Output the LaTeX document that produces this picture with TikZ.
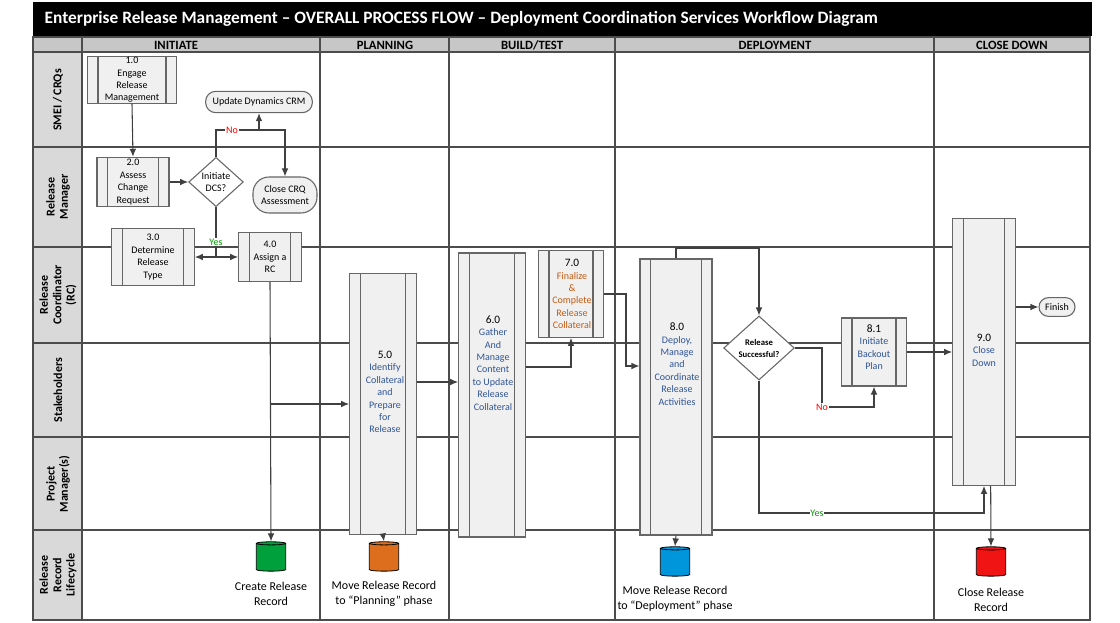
\documentclass[tikz,border=0pt]{standalone}
\usepackage{fontspec}
\setmainfont{Carlito}
\usetikzlibrary{shapes.geometric,arrows.meta}
\definecolor{descblue}{RGB}{47,84,150}
\definecolor{descbrown}{RGB}{197,90,17}
\definecolor{cylgreen}{RGB}{0,160,60}
\definecolor{cylorange}{RGB}{220,110,30}
\definecolor{cylblue}{RGB}{0,150,220}
\definecolor{cylred}{RGB}{240,20,20}
\tikzset{
  proc/.style={draw=black!60, fill=black!6, line width=0.8pt, inner sep=0pt,
    path picture={
      \draw[black!60, line width=0.8pt]
        ([xshift=#1]path picture bounding box.south west) -- ([xshift=#1]path picture bounding box.north west)
        ([xshift=-#1]path picture bounding box.south east) -- ([xshift=-#1]path picture bounding box.north east);}},
  proc/.default=8pt,
  txt/.style={align=center, font=\fontsize{7.5}{9.3}\selectfont, inner sep=0pt},
  term/.style={draw=black!60, fill=black!6, line width=0.8pt, rounded corners=7.5pt, align=center,
    font=\fontsize{7.5}{9.3}\selectfont, inner sep=2pt, minimum height=16pt},
  dec/.style={diamond, draw=black!60, fill=white, line width=0.8pt, inner sep=0pt, align=center},
  db/.style={cylinder, shape border rotate=90, aspect=0.35, draw=black, line width=0.6pt,
    minimum width=22pt, minimum height=22pt, fill=#1},
  lane/.style={rotate=90, align=center, font=\fontsize{9}{10}\selectfont\bfseries},
  head/.style={font=\fontsize{9.5}{10}\selectfont\bfseries},
  reccap/.style={align=center, font=\fontsize{9}{11.5}\selectfont},
  flow/.style={draw=black!75, line width=0.8pt},
  no/.style={fill=white, text=red, inner sep=0.5pt, font=\fontsize{7.5}{8}\selectfont},
  yes/.style={fill=white, text=green!60!black, inner sep=0.5pt, font=\fontsize{7.5}{8}\selectfont}
}
\begin{document}
\begin{tikzpicture}[x=0.75pt, y=-0.75pt, >={Latex[length=6pt,width=5pt]}]
\useasboundingbox (0,0) rectangle (1120,623);

% frame, title and headers
\fill[black] (33,2) rectangle (1092,36);
\node[text=white, font=\fontsize{13}{14}\selectfont\bfseries, anchor=west] (title) at (40,19)
  {Enterprise Release Management -- OVERALL PROCESS FLOW -- Deployment Coordination Services Workflow Diagram};
\fill[black!22] (33,37) rectangle (1090,52);
\fill[black!15] (33,52) rectangle (82,620);
\draw[black!70, line width=0.8pt] (33,37) rectangle (1090,620);
\foreach \y in {52,147,247,343,437,530} \draw[black!70, line width=0.8pt] (33,\y) -- (1090,\y);
\foreach \x in {82,320,449,615,934} \draw[black!70, line width=0.8pt] (\x,37) -- (\x,620);
\node[head] (hinit) at (176,45) {INITIATE};
\node[head] (hplan) at (385,45) {PLANNING};
\node[head] (hbuild) at (532,45) {BUILD/TEST};
\node[head] (hdep) at (775,45) {DEPLOYMENT};
\node[head] (hclose) at (1012,45) {CLOSE DOWN};
\node[lane] (l1) at (58,100) {SMEI / CRQs};
\node[lane] (l2) at (58,197) {Release\\Manager};
\node[lane] (l3) at (58,295) {Release\\Coordinator\\(RC)};
\node[lane] (l4) at (58,390) {Stakeholders};
\node[lane] (l5) at (58,484) {Project\\Manager(s)};
\node[lane] (l6) at (58,575) {Release\\Record\\Lifecycle};

% process steps
\node[proc, minimum width=67pt, minimum height=35pt, txt] (p1) at (132,80) {1.0\\Engage\\Release\\Management};
\node[term, minimum width=80pt] (crm) at (259,102) {Update Dynamics CRM};
\node[proc, minimum width=54pt, minimum height=37pt, txt] (p2) at (133,182) {2.0\\Assess\\Change\\Request};
\node[dec, minimum width=41pt, minimum height=37pt, font=\fontsize{7.5}{9.3}\selectfont] (dcs) at (216,182) {Initiate\\DCS?};
\node[term, minimum width=48pt, minimum height=27pt, rounded corners=12pt] (crq) at (285,195) {Close CRQ\\Assessment};
\node[proc, minimum width=62pt, minimum height=43pt, txt] (p3) at (153,257) {3.0\\Determine\\Release\\Type};
\node[proc, minimum width=47pt, minimum height=37pt, txt] (p4) at (270,257) {4.0\\Assign a\\RC};
\node[proc, minimum width=50pt, minimum height=196pt] (p5) at (383,404) {};
\node[txt] (t5) at (385,392) {\fontsize{8.5}{9.3}\selectfont 5.0\\\color{descblue}Identify\\\color{descblue}Collateral\\\color{descblue}and\\\color{descblue}Prepare\\\color{descblue}for\\\color{descblue}Release};
\node[proc, minimum width=50pt, minimum height=213pt] (p6) at (492,395) {};
\node[txt] (t6) at (493,363) {\fontsize{8.5}{9.3}\selectfont 6.0\\\color{descblue}Gather\\\color{descblue}And\\\color{descblue}Manage\\\color{descblue}Content\\\color{descblue}to Update\\\color{descblue}Release\\\color{descblue}Collateral};
\node[proc, minimum width=49pt, minimum height=65pt] (p7) at (571,294) {};
\node[txt] (t7) at (572,294) {\fontsize{8.5}{9.3}\selectfont 7.0\\\color{descbrown}Finalize\\\color{descbrown}\&\\\color{descbrown}Complete\\\color{descbrown}Release\\\color{descbrown}Collateral};
\node[proc, minimum width=54pt, minimum height=207pt] (p8) at (676,397) {};
\node[txt] (t8) at (677,364) {\fontsize{8.5}{9.3}\selectfont 8.0\\\color{descblue}Deploy,\\\color{descblue}Manage\\\color{descblue}and\\\color{descblue}Coordinate\\\color{descblue}Release\\\color{descblue}Activities};
\node[dec, minimum width=53pt, minimum height=48pt, font=\fontsize{6.5}{9}\selectfont\bfseries] (succ) at (759,348) {Release\\Successful?};
\node[proc, minimum width=49pt, minimum height=51pt] (p81) at (874,352) {};
\node[txt] (t81) at (874,347) {\fontsize{8.5}{9.3}\selectfont 8.1\\\color{descblue}Initiate\\\color{descblue}Backout\\\color{descblue}Plan};
\node[proc, minimum width=47pt, minimum height=200pt] (p9) at (984,352) {};
\node[txt] (t9) at (984,350) {\fontsize{8.5}{9.3}\selectfont 9.0\\\color{descblue}Close\\\color{descblue}Down};
\node[term, minimum width=27pt, minimum height=14pt, rounded corners=7pt] (fin) at (1057,307) {Finish};

% record lifecycle
\node[db=cylgreen] (rc1) at (271,558) {};
\node[db=cylorange] (rc2) at (384,558) {};
\node[db=cylblue] (rc3) at (675,563) {};
\node[db=cylred] (rc4) at (991,563) {};
\node[reccap] (c1) at (271,594) {Create Release\\Record};
\node[reccap] (c2) at (384,594) {Move Release Record\\to “Planning” phase};
\node[reccap] (c3) at (675,599) {Move Release Record\\to “Deployment” phase};
\node[reccap] (c4) at (991,600) {Close Release\\Record};

% connectors
\coordinate (nA) at (216,130);
\coordinate (nB) at (285,130);
\coordinate (yA) at (216,257);
\coordinate (j4) at (271,404);
\coordinate (j56) at (0,382);
\coordinate (j67) at (0,367);
\coordinate (j78a) at (626,294);
\coordinate (j78b) at (626,366);
\coordinate (j8a) at (676,248);
\coordinate (jNo) at (822,407);
\coordinate (jYes) at (984,513);
\draw[flow, ->] (p1.south) -- (p2.north);
\draw[flow, ->] (p2.east) -- (dcs.west);
\draw[flow, ->] (dcs.north) -- (nA) -- (nB) -- (crq.north);
\draw[flow, ->] (crm.south |- nA) -- (crm.south);
\node[no] (lno1) at (232,130) {No};
\draw[flow] (dcs.south) -- (yA);
\draw[flow, ->] (yA) -- (p3.east |- yA);
\draw[flow, ->] (yA) -- (p4.west |- yA);
\node[yes] (lyes1) at (216,242) {Yes};
\draw[flow, ->] (p4.south) -- (rc1.north);
\draw[flow, ->] (j4) -- (p5.west |- j4);
\draw[flow, ->] (p5.south) -- (rc2.north);
\draw[flow, ->] (p5.east |- j56) -- (p6.west |- j56);
\draw[flow, ->] (p6.east |- j67) -| (p7.south);
\draw[flow, ->] (p7.east |- j78a) -- (j78a) -- (j78b) -- (p8.west |- j78b);
\draw[flow, ->] (j8a |- p8.north) -- (j8a) -| (succ.north);
\draw[flow, ->] (succ.east) -| (jNo) -| (p81.south);
\node[no] (lno2) at (822,407) {No};
\draw[flow, ->] (succ.south) |- (jYes) -- (p9.south);
\node[yes] (lyes2) at (817,513) {Yes};
\draw[flow, ->] (p81.east) -- (p9.west |- p81.east);
\draw[flow, ->] (p8.south) -- (rc3.north);
\draw[flow, ->] (p9.east |- fin) -- (fin.west);
\draw[flow, ->] ([xshift=5pt]p9.south) -- (rc4.north);
\end{tikzpicture}
\end{document}
